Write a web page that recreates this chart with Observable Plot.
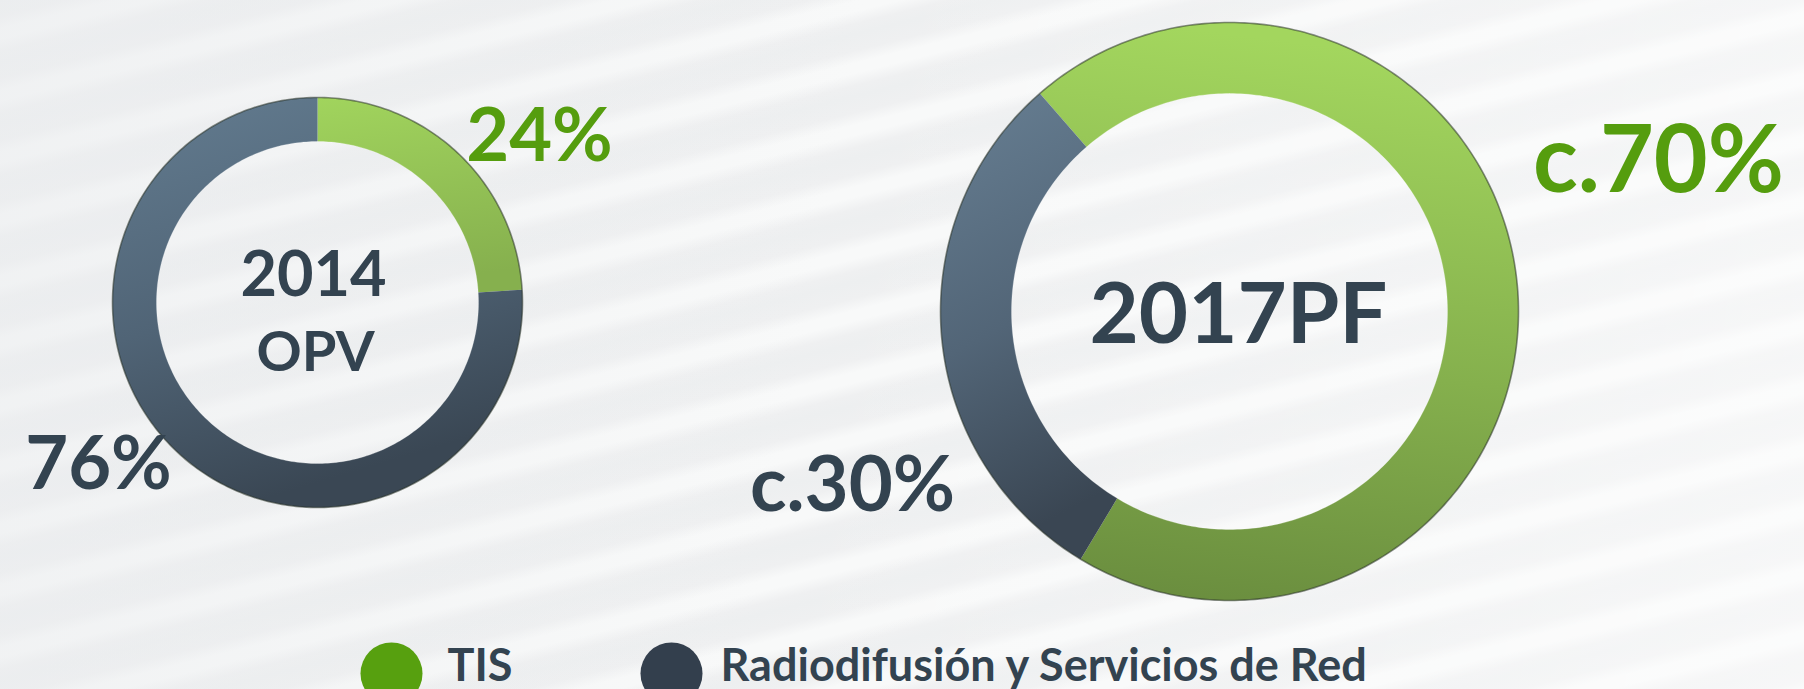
<!DOCTYPE html>
<html>
<head>
<meta charset="utf-8">
<script src="https://cdn.jsdelivr.net/npm/d3@7"></script>
<script src="https://cdn.jsdelivr.net/npm/@observablehq/plot@0.6"></script>
<style>
  html, body { margin: 0; padding: 0; width: 1804px; height: 689px; overflow: hidden; }
  body {
    background:
      linear-gradient(100deg, rgba(234,236,238,0.6) 0%, rgba(255,255,255,0) 45%, rgba(255,255,255,0.5) 100%),
      repeating-linear-gradient(166deg, #edeff0 0px, #eff0f1 16px, #f8f9f9 28px, #f8f9f9 38px, #eff0f1 50px, #edeff0 60px);
    font-family: Lato, "Open Sans", sans-serif;
  }
  #chart svg { display: block; }
</style>
</head>
<body>
<svg width="0" height="0" style="position:absolute">
  <defs>
    <linearGradient id="g14" x1="0" y1="0" x2="0.15" y2="1">
      <stop offset="0%" stop-color="#a1d45d"/>
      <stop offset="100%" stop-color="#86b04e"/>
    </linearGradient>
    <linearGradient id="d14" x1="0" y1="0" x2="0.3" y2="1">
      <stop offset="0%" stop-color="#637c90"/>
      <stop offset="55%" stop-color="#506476"/>
      <stop offset="100%" stop-color="#3a4754"/>
    </linearGradient>
    <linearGradient id="g17" x1="0.2" y1="0" x2="0.1" y2="1">
      <stop offset="0%" stop-color="#a3d65e"/>
      <stop offset="55%" stop-color="#85b04d"/>
      <stop offset="100%" stop-color="#698c3e"/>
    </linearGradient>
    <linearGradient id="d17" x1="0" y1="0" x2="0.2" y2="1">
      <stop offset="0%" stop-color="#677f93"/>
      <stop offset="55%" stop-color="#526577"/>
      <stop offset="100%" stop-color="#3a4653"/>
    </linearGradient>
  </defs>
</svg>
<div id="chart"></div>
<script>
// ---- data ----
const categories = ["TIS", "Radiodifusión y Servicios de Red"];
const periods = ["2014", "2017PF"];
const periodTitles = [["2014", "OPV"], ["2017PF"]];
const share2014 = [24, 76];
const share2017 = [70, 30];
const valueLabels2014 = ["24%", "76%"];
const valueLabels2017 = ["c.70%", "c.30%"];

// ---- layout & style ----
const W = 1804, H = 689;
const textGreen = "#559d0e", textDark = "#334350";
const legendColors = ["#57a00f", "#333f4d"];
const font = "Lato, 'Open Sans', sans-serif";
const layout = [
  {shares: share2014, labels: valueLabels2014, titles: periodTitles[0],
   cx: 317, cy: 302, R: 205, r: 161, start: 0, fills: ["url(#g14)", "url(#d14)"],
   labelSize: 74, labelPos: [[539, 160], [98, 488]], labelColor: [textGreen, textDark],
   titleSize: [63, 56], titlePos: [[313, 295], [315, 370]]},
  {shares: share2017, labels: valueLabels2017, titles: periodTitles[1],
   cx: 1229, cy: 311, R: 289, r: 218, start: -41, fills: ["url(#g17)", "url(#d17)"],
   labelSize: [93, 76], labelPos: [[1658, 191], [852, 510]], labelColor: [textGreen, textDark],
   titleSize: [85], titlePos: [[1238, 342]]}
];

// ring polygons from shares
function ringSegments(d, di) {
  const out = [];
  let a = d.start * Math.PI / 180;
  d.shares.forEach((s, i) => {
    const a0 = a, a1 = a + s / 100 * 2 * Math.PI;
    a = a1;
    const n = Math.max(8, Math.ceil(s * 3.6));
    const pts = [];
    for (let k = 0; k <= n; k++) {
      const t = a0 + (a1 - a0) * k / n;
      pts.push({x: d.cx + d.R * Math.sin(t), y: d.cy - d.R * Math.cos(t)});
    }
    for (let k = n; k >= 0; k--) {
      const t = a0 + (a1 - a0) * k / n;
      pts.push({x: d.cx + d.r * Math.sin(t), y: d.cy - d.r * Math.cos(t)});
    }
    out.push({period: periods[di], category: categories[i], fill: d.fills[i], pts});
  });
  return out;
}
function circlePts(cx, cy, rad) {
  const pts = [];
  for (let k = 0; k <= 360; k++) {
    const t = k * Math.PI / 180;
    pts.push({x: cx + rad * Math.sin(t), y: cy - rad * Math.cos(t)});
  }
  return pts;
}

const marks = [];
layout.forEach((d, di) => {
  ringSegments(d, di).forEach(seg => {
    marks.push(Plot.line(seg.pts, {x: "x", y: "y", fill: seg.fill, stroke: "none", curve: "linear"}));
  });
  marks.push(Plot.line(circlePts(d.cx, d.cy, d.R), {x: "x", y: "y", stroke: "#2a3328", strokeOpacity: 0.55, strokeWidth: 1.6}));
  marks.push(Plot.line(circlePts(d.cx, d.cy, d.r), {x: "x", y: "y", stroke: "#ffffff", strokeOpacity: 0.25, strokeWidth: 1}));
  // value labels
  d.labels.forEach((lab, i) => {
    marks.push(Plot.text([lab], {
      x: () => d.labelPos[i][0], y: () => d.labelPos[i][1], text: t => t,
      fontSize: Array.isArray(d.labelSize) ? d.labelSize[i] : d.labelSize,
      fontWeight: 700, fontFamily: font, fill: d.labelColor[i],
      textAnchor: "middle", lineAnchor: "bottom"
    }));
  });
  // center titles
  d.titles.forEach((t, i) => {
    marks.push(Plot.text([t], {
      x: () => d.titlePos[i][0], y: () => d.titlePos[i][1], text: v => v,
      fontSize: d.titleSize[i], fontWeight: 700, fontFamily: font, fill: textDark,
      textAnchor: "middle", lineAnchor: "bottom"
    }));
  });
});

// legend
const legendX = [391, 671], legendY = 673, legendTextX = [447, 720];
marks.push(Plot.dot(categories, {x: (c, i) => legendX[i], y: () => legendY, r: 31, fill: (c, i) => legendColors[i]}));
marks.push(Plot.text(categories, {
  x: (c, i) => legendTextX[i], y: () => 680, text: c => c,
  fontSize: 45, fontWeight: 700, fontFamily: font, fill: textDark,
  textAnchor: "start", lineAnchor: "bottom"
}));

const chart = Plot.plot({
  width: W, height: H, margin: 0,
  x: {domain: [0, W], range: [0, W], axis: null},
  y: {domain: [0, H], range: [0, H], axis: null},
  color: {type: "identity"},
  style: {background: "transparent", overflow: "hidden"},
  marks
});
document.getElementById("chart").appendChild(chart);
</script>
</body>
</html>
